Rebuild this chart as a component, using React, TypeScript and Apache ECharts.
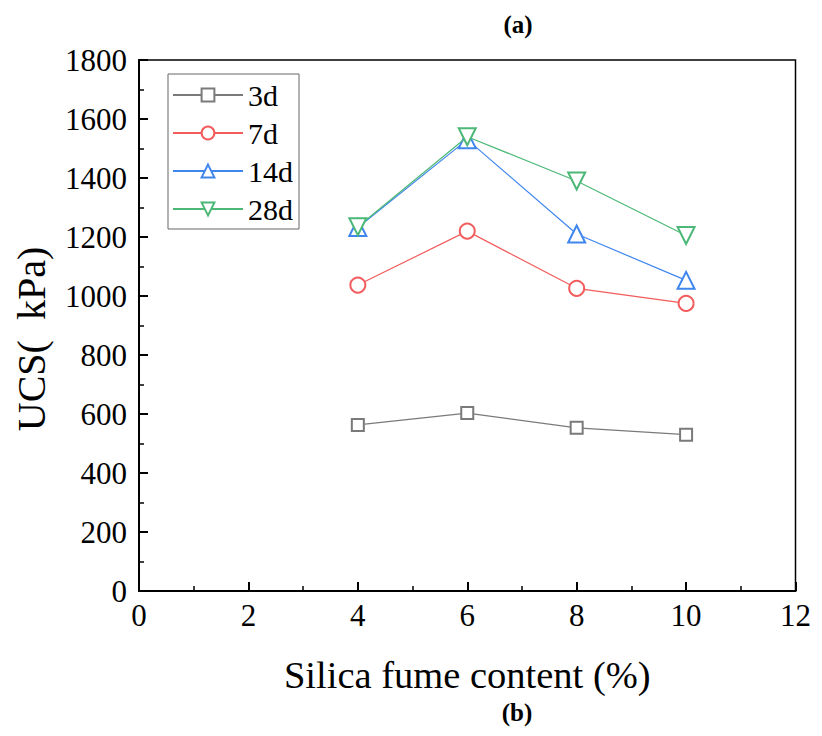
import React, { useEffect, useRef } from "react";
import * as echarts from "echarts";

const xValues = [4, 6, 8, 10];
const seriesNames = ["3d", "7d", "14d", "28d"];
const ucs3d = [563, 603, 553, 530];
const ucs7d = [1037, 1220, 1026, 975];
const ucs14d = [1232, 1530, 1210, 1053];
const ucs28d = [1235, 1540, 1390, 1205];
const colors = ["#7a7a7a", "#f25c5c", "#3f86ee", "#4cb877"];
const symbols = ["emptyRect", "emptyCircle", "emptyTriangle", "emptyTriangle"];
const rotations = [0, 0, 0, 180];
const sizes = [12, 15, 17, 17];

const FONT = "Liberation Serif";

export default function App() {
  const ref = useRef<HTMLDivElement>(null);
  useEffect(() => {
    if (!ref.current) return;
    const chart = echarts.init(ref.current, undefined, { renderer: "svg" });
    const all = [ucs3d, ucs7d, ucs14d, ucs28d];
    chart.setOption({
      animation: false,
      backgroundColor: "#fff",
      textStyle: { fontFamily: FONT },
      grid: {
        left: 131,
        right: 11,
        top: 52,
        bottom: 137,
        show: true,
        borderColor: "#000",
        borderWidth: 1.5,
        backgroundColor: "transparent",
      },
      legend: {
        orient: "vertical",
        left: 160,
        top: 66,
        padding: [6, 6, 5, 4],
        itemGap: 8,
        itemWidth: 70,
        itemHeight: 16,
        borderColor: "#666",
        borderWidth: 1,
        data: seriesNames,
        textStyle: { fontFamily: FONT, fontSize: 30, color: "#000", padding: [0, 0, 0, 0] },
      },
      graphic: [
        {
          type: "text",
          x: 510,
          y: 16,
          style: { text: "(a)", fontFamily: FONT, fontSize: 25, fontWeight: "bold", fill: "#000", align: "center", verticalAlign: "middle" },
        },
        {
          type: "text",
          x: 509,
          y: 704,
          style: { text: "(b)", fontFamily: FONT, fontSize: 25, fontWeight: "bold", fill: "#000", align: "center", verticalAlign: "middle" },
        },
        {
          type: "text",
          x: 23,
          y: 331,
          rotation: Math.PI / 2,
          style: { text: "UCS(  kPa)", fontFamily: FONT, fontSize: 40, fill: "#000", align: "center", verticalAlign: "middle" },
        },
      ],
      xAxis: {
        type: "value",
        min: 0,
        max: 12,
        interval: 2,
        name: "Silica fume content (%)",
        nameLocation: "middle",
        nameGap: 64,
        nameTextStyle: { fontFamily: FONT, fontSize: 38.5, color: "#000" },
        axisLine: { show: true, lineStyle: { color: "#000", width: 2 } },
        axisTick: { show: true, inside: true, length: 9, lineStyle: { color: "#000", width: 2 } },
        minorTick: { show: true, splitNumber: 2, length: 5, lineStyle: { color: "#000", width: 1.5 } },
        axisLabel: { fontFamily: FONT, fontSize: 31, color: "#000", margin: 9, formatter: (v: number) => String(v) },
        splitLine: { show: false },
      },
      yAxis: {
        type: "value",
        min: 0,
        max: 1800,
        interval: 200,
        axisLine: { show: true, lineStyle: { color: "#000", width: 2 } },
        axisTick: { show: true, inside: true, length: 9, lineStyle: { color: "#000", width: 2 } },
        minorTick: { show: true, splitNumber: 2, length: 5, lineStyle: { color: "#000", width: 1.5 } },
        axisLabel: { fontFamily: FONT, fontSize: 31, color: "#000", margin: 12, formatter: (v: number) => String(v) },
        splitLine: { show: false },
      },
      series: seriesNames.map((name, i) => ({
        name,
        type: "line",
        data: xValues.map((x, j) => [x, all[i][j]]),
        symbol: symbols[i],
        symbolSize: sizes[i],
        symbolRotate: rotations[i],
        showAllSymbol: true,
        lineStyle: { color: colors[i], width: 1.2 },
        itemStyle: { color: colors[i], borderColor: colors[i], borderWidth: 1.5 },
        z: 2 + i,
      })),
    });
    return () => chart.dispose();
  }, []);
  return <div ref={ref} style={{ width: 806, height: 720 }} />;
}
